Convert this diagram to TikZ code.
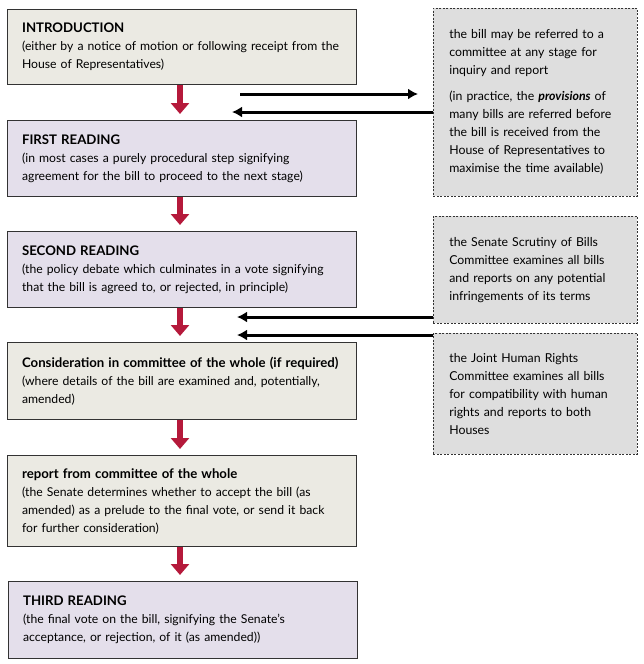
\documentclass[tikz,border=0pt]{standalone}
\usepackage{fontspec}
\setmainfont{Lato}
\definecolor{Beige}{RGB}{235,234,227}
\definecolor{Lilac}{RGB}{228,223,235}
\definecolor{NoteGray}{RGB}{222,222,222}
\definecolor{FlowRed}{RGB}{181,25,59}
\usetikzlibrary{arrows.meta, positioning}
\newcommand{\stagehead}[1]{{\fontsize{13.2}{18}\selectfont\textbf{#1}}}
\tikzset{
  stage/.style={draw=black!80, line width=1.2pt, text width=320pt, inner xsep=14.5pt, inner ysep=3pt,
    anchor=north west, align=left, font=\fontsize{12.2}{18}\selectfont},
  note/.style={draw=black!80, dashed, dash pattern=on 2pt off 1.5pt, line width=0.7pt, fill=NoteGray,
    text width=172pt, inner xsep=16pt, align=left, font=\fontsize{12.3}{18}\selectfont},
  flow/.style={draw=FlowRed, line width=6.5pt, -{Triangle[length=11pt,width=18pt]}, shorten >=6pt},
  link/.style={draw=black, line width=3pt, -{Latex[length=10pt,width=11pt]}}
}
\begin{document}
\begin{tikzpicture}[x=1pt,y=-1pt]
\useasboundingbox (0,0) rectangle (643,664);
%stages
\node[stage, fill=Beige, minimum height=75pt] (intro) at (7,9)
  {\stagehead{INTRODUCTION}\\(either by a notice of motion or following receipt from the\\House of Representatives)};
\node[stage, fill=Lilac, minimum height=76pt] (first) at (7,120)
  {\stagehead{FIRST READING}\\(in most cases a purely procedural step signifying\\agreement for the bill to proceed to the next stage)};
\node[stage, fill=Lilac, minimum height=76pt] (second) at (7,231)
  {\stagehead{SECOND READING}\\(the policy debate which culminates in a vote signifying\\that the bill is agreed to, or rejected, in principle)};
\node[stage, fill=Beige, minimum height=77pt] (whole) at (7,342)
  {\stagehead{Consideration in committee of the whole (if required)}\\(where details of the bill are examined and, potentially,\\amended)};
\node[stage, fill=Beige, minimum height=91pt] (report) at (7,455)
  {\stagehead{report from committee of the whole}\\(the Senate determines whether to accept the bill (as\\amended) as a prelude to the final vote, or send it back\\for further consideration)};
\node[stage, fill=Lilac, minimum height=77pt] (third) at (8,581)
  {\stagehead{THIRD READING}\\(the final vote on the bill, signifying the Senate's\\acceptance, or rejection, of it (as amended))};
\foreach \a/\b in {intro/first, first/second, second/whole, whole/report, report/third}
  \draw[flow] (\a.south -| 180,0) -- (\b.north -| 180,0);
%notes
\node[note, anchor=north west, minimum height=188pt] (inquiry) at (433,8)
  {the bill may be referred to a\\committee at any stage for\\inquiry and report\\[8pt]
   (in practice, the \textbf{\textit{provisions}} of\\many bills are referred before\\the bill is received from the\\House of Representatives to\\maximise the time available)};
\node[note, anchor=north west, minimum height=107pt] (scrutiny) at (433,216)
  {the Senate Scrutiny of Bills\\Committee examines all bills\\and reports on any potential\\infringements of its terms};
\node[note, below=9pt of scrutiny, minimum height=121pt] (rights)
  {the Joint Human Rights\\Committee examines all bills\\for compatibility with human\\rights and reports to both\\Houses};
%links
\coordinate (refer) at (240,94);
\coordinate (referend) at (418,94);
\coordinate (back) at (232,112);
\coordinate (scrut) at (237,317);
\coordinate (human) at (237,335);
\draw[link] (refer) -- (referend);
\draw[link] (inquiry.west |- back) -- (back);
\draw[link] (scrutiny.west |- scrut) -- (scrut);
\draw[link] (rights.west |- human) -- (human);
\end{tikzpicture}
\end{document}
